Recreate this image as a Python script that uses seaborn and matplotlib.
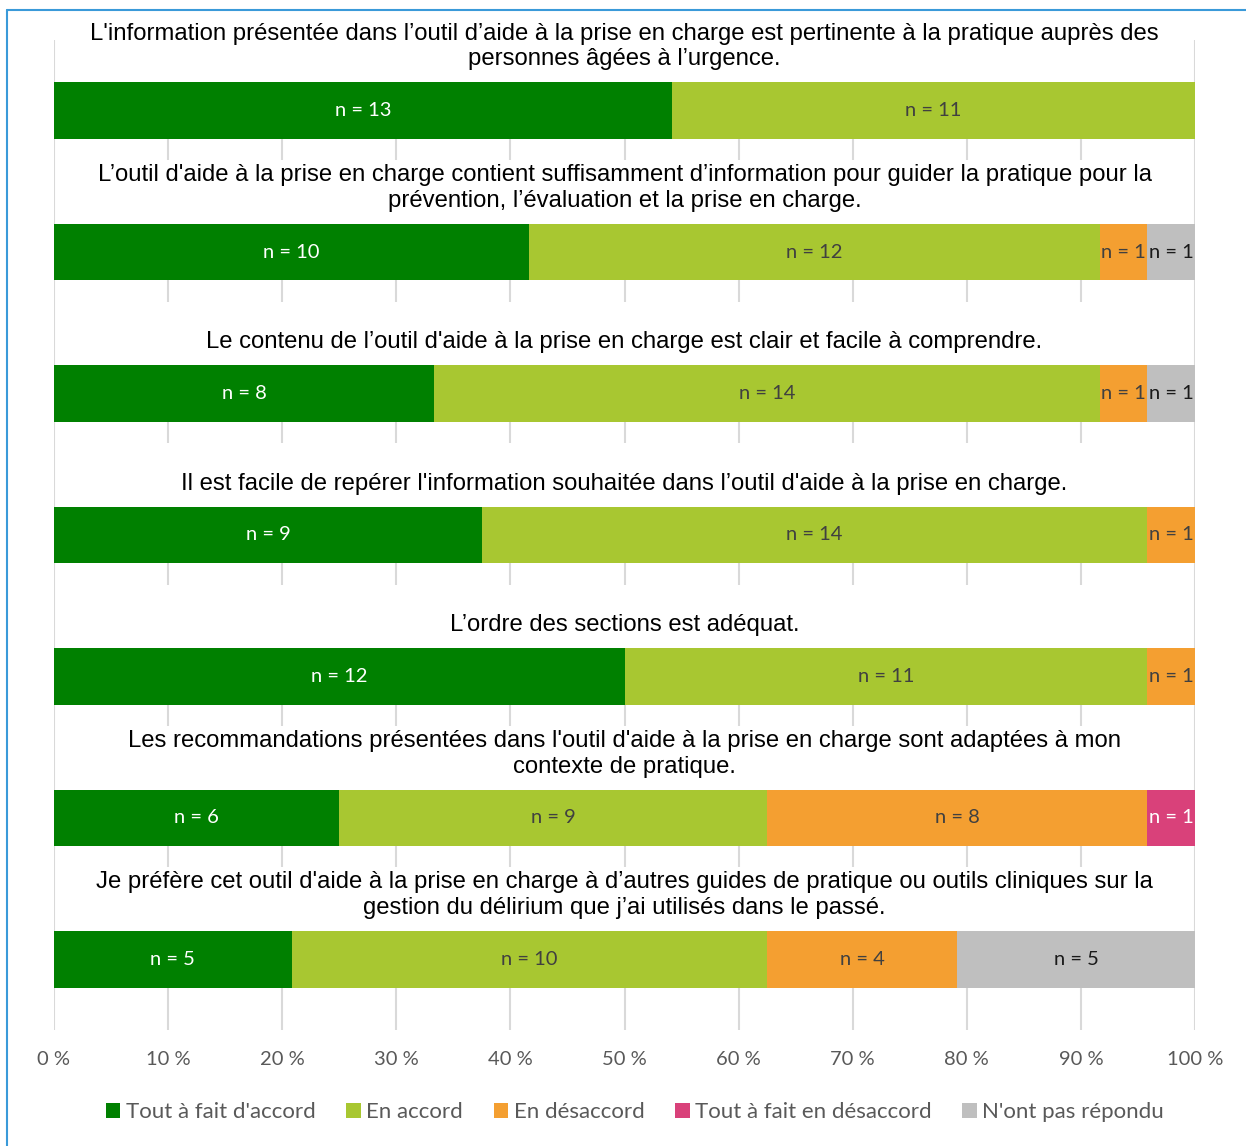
import matplotlib
matplotlib.use("Agg")
import matplotlib.pyplot as plt
from matplotlib.patches import Patch, Rectangle
from matplotlib.lines import Line2D
import numpy as np
import pandas as pd
import seaborn as sns

questions = [
    "L'information présentée dans l’outil d’aide à la prise en charge est pertinente à la pratique auprès des\npersonnes âgées à l’urgence.",
    "L’outil d'aide à la prise en charge contient suffisamment d’information pour guider la pratique pour la\nprévention, l’évaluation et la prise en charge.",
    "Le contenu de l’outil d'aide à la prise en charge est clair et facile à comprendre.",
    "Il est facile de repérer l'information souhaitée dans l’outil d'aide à la prise en charge.",
    "L’ordre des sections est adéquat.",
    "Les recommandations présentées dans l'outil d'aide à la prise en charge sont adaptées à mon\ncontexte de pratique.",
    "Je préfère cet outil d'aide à la prise en charge à d’autres guides de pratique ou outils cliniques sur la\ngestion du délirium que j’ai utilisés dans le passé.",
]
categories = ["Tout à fait d'accord", "En accord", "En désaccord",
              "Tout à fait en désaccord", "N'ont pas répondu"]
tout_accord = [13, 10, 8, 9, 12, 6, 5]
en_accord = [11, 12, 14, 14, 11, 9, 10]
en_desaccord = [0, 1, 1, 1, 1, 8, 4]
tout_desaccord = [0, 0, 0, 0, 0, 1, 0]
non_repondu = [0, 1, 1, 0, 0, 0, 5]
tick_values = [0, 10, 20, 30, 40, 50, 60, 70, 80, 90, 100]
tick_labels = ["0\u00a0%", "10\u00a0%", "20\u00a0%", "30\u00a0%", "40\u00a0%", "50\u00a0%",
               "60\u00a0%", "70\u00a0%", "80\u00a0%", "90\u00a0%", "100\u00a0%"]

colors = ["#008000", "#A8C731", "#F49F31", "#D9417A", "#BFBFBF"]
label_colors = ["white", "#404040", "#404040", "white", "#1a1a1a"]

counts = np.array([tout_accord, en_accord, en_desaccord, tout_desaccord, non_repondu], dtype=float)
totals = counts.sum(axis=0)
pct = counts / totals * 100
cum = np.cumsum(pct, axis=0)

sns.set_style("white")
W, H = 1246, 1146
fig = plt.figure(figsize=(W / 100, H / 100), dpi=100)
ax = fig.add_axes([54 / W, 1 - 1030 / H, (1195 - 54) / W, (1030 - 40) / H])

label_font = "Lato"
title_font = "Liberation Sans"

keys = [f"q{i}" for i in range(len(questions))]
for k in reversed(range(len(categories))):
    df = pd.DataFrame({"q": keys, "v": cum[k]})
    sns.barplot(data=df, x="v", y="q", order=keys, orient="h", color=colors[k],
                saturation=1, width=0.4, ax=ax, zorder=3, linewidth=0)

ax.set_xlim(0, 100)
ax.set_ylim(len(questions) - 0.5, -0.5)

# gridlines
for t in tick_values:
    ax.axvline(t, color="#D9D9D9", lw=1.5, zorder=0.5)

# white title boxes + titles
for i, q in enumerate(questions):
    ax.add_patch(Rectangle((0.6, i - 0.2 - 0.45), 98.8, 0.45, facecolor="white",
                           edgecolor="none", zorder=1))
    ax.text(50, i - 0.2 - 0.085, q, ha="center", va="bottom", fontsize=17.2,
            family=title_font, color="#000000", linespacing=1.22, zorder=4)

# segment labels
for k in range(len(categories)):
    for i in range(len(questions)):
        c = counts[k, i]
        if c > 0:
            left = cum[k, i] - pct[k, i]
            ax.text(left + pct[k, i] / 2, i, f"n = {int(c)}", ha="center", va="center",
                    fontsize=14.5, family=label_font, color=label_colors[k], zorder=5)

ax.set_yticks([])
ax.set_ylabel("")
ax.set_xlabel("")
ax.set_xticks(tick_values)
ax.set_xticklabels(tick_labels, family=label_font, fontsize=14.5, color="#595959")
ax.tick_params(axis="x", length=0, pad=15)
for s in ax.spines.values():
    s.set_visible(False)

handles = [Patch(facecolor=colors[k], edgecolor="none", label=categories[k])
           for k in range(len(categories))]
fig.legend(handles=handles, loc="center", bbox_to_anchor=(635 / W, 1 - 1112 / H), ncol=5,
           frameon=False, prop={"family": label_font, "size": 16},
           labelcolor="#595959", handlelength=0.65, handleheight=0.65,
           handletextpad=0.25, columnspacing=1.38)

# outer frame (blue left and top border)
fig.add_artist(Line2D([7 / W, 7 / W], [0, 1 - 10 / H], color="#3A9AD9", lw=1.5,
                      transform=fig.transFigure))
fig.add_artist(Line2D([7 / W, 1], [1 - 10 / H, 1 - 10 / H], color="#3A9AD9", lw=1.5,
                      transform=fig.transFigure))

fig.savefig("out.png", dpi=100, facecolor="white")
